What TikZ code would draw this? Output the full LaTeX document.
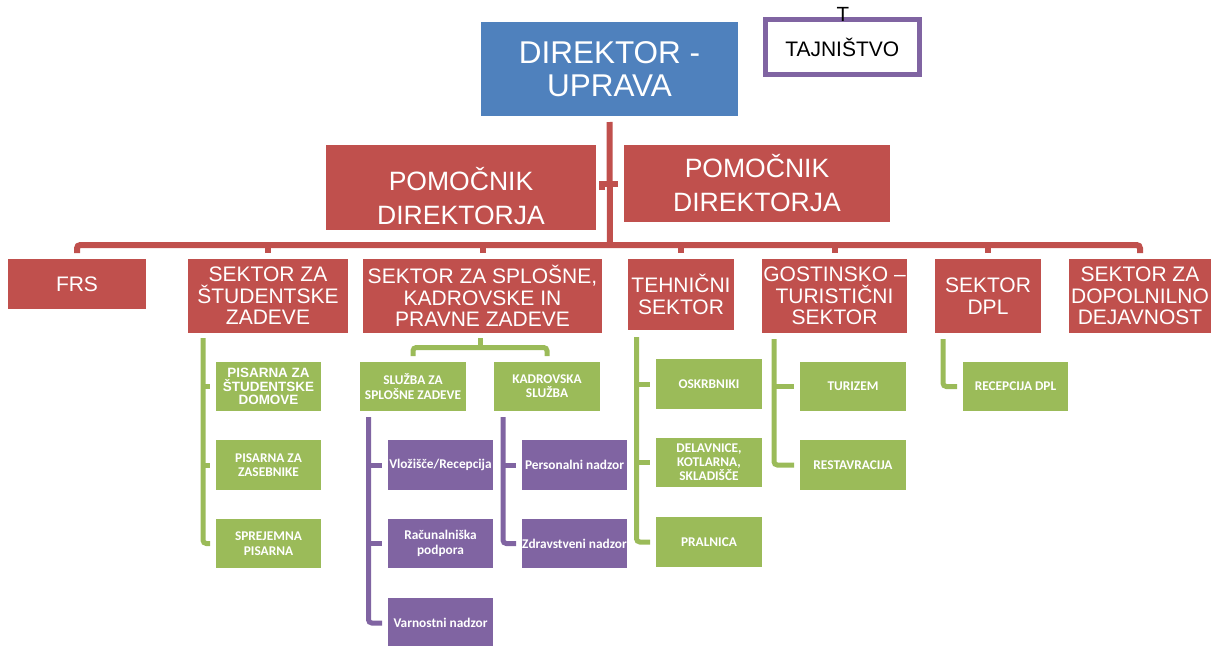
\documentclass[tikz,border=0pt]{standalone}
\usepackage{fontspec}
\setmainfont{Liberation Sans}
\newfontfamily\calibrifont{Carlito}
\usetikzlibrary{calc}
\definecolor{cblue}{HTML}{4F81BD}
\definecolor{cred}{HTML}{C0504D}
\definecolor{cgreen}{HTML}{9BBB59}
\definecolor{cpurple}{HTML}{8064A2}
\begin{document}
\begin{tikzpicture}[x=0.75pt,y=-0.75pt,
  corners/.style n args={4}{minimum width={(#3-#1)*0.75pt}, minimum height={(#4-#2)*0.75pt}, at={({(#1+#3)/2},{(#2+#4)/2})}},
  box/.style={inner sep=0pt, outer sep=0pt, align=center, text=white},
  redbox/.style={box, fill=cred, font=\fontsize{15.75}{16.1}\selectfont},
  greenbox/.style={box, fill=cgreen, font=\calibrifont\bfseries\fontsize{10}{10.6}\selectfont},
  purplebox/.style={box, fill=cpurple, font=\calibrifont\bfseries\fontsize{10}{11}\selectfont},
  redline/.style={draw=cred, line width=4.5pt, rounded corners=2.5pt},
  greenline/.style={draw=cgreen, line width=3.75pt, rounded corners=2.5pt},
  purpleline/.style={draw=cpurple, line width=3.75pt, rounded corners=2.5pt},
  bigtext/.style={font=\fontsize{19.9}{25.5}\selectfont},
]
\useasboundingbox (0,0) rectangle (1218,646);

% top
\node[box, fill=cblue, font=\fontsize{23.6}{24.75}\selectfont, corners={481}{22}{738}{116}] (dir) {DIREKTOR -\\UPRAVA};
\node[box, draw=cpurple, line width=3.75pt, fill=white, text=black, font=\fontsize{15.75}{18}\selectfont, corners={765.5}{19.5}{919}{74.5}] (taj) {TAJNIŠTVO};
\node[inner sep=0pt, anchor=base, text=black, font=\fontsize{15.4}{16}\selectfont] (tajT) at (843,21.7) {T};

\node[redbox, corners={326}{145}{596}{230}] (pomL) {};
\node[box, bigtext] (pomLt) at (461,196) {POMOČNIK\\DIREKTORJA};
\node[redbox, bigtext, corners={624}{145}{890}{222}] (pomR) {POMOČNIK\\DIREKTORJA};

% sectors
\node[redbox, corners={8}{259}{146}{309}] (frs) {FRS};
\node[redbox, corners={188}{259}{348}{333}] (stud) {SEKTOR ZA\\ŠTUDENTSKE\\ZADEVE};
\node[redbox, corners={363}{259}{602}{333}] (splo) {SEKTOR ZA SPLOŠNE,\\KADROVSKE IN\\PRAVNE ZADEVE};
\node[redbox, corners={628}{259}{734}{330}] (teh) {TEHNIČNI\\SEKTOR};
\node[redbox, corners={762}{259}{907}{333}] (gost) {GOSTINSKO –\\TURISTIČNI\\SEKTOR};
\node[redbox, corners={935}{259}{1041}{333}] (dpl) {SEKTOR\\DPL};
\node[redbox, corners={1069}{259}{1211}{333}] (dop) {SEKTOR ZA\\DOPOLNILNO\\DEJAVNOST};

% green units
\node[greenbox, font=\bfseries\fontsize{10.1}{10}\selectfont, corners={216}{362}{321}{411}] (pisSD) {PISARNA ZA\\ŠTUDENTSKE\\DOMOVE};
\node[greenbox, corners={216}{440}{321}{490}] (pisZ) {PISARNA ZA\\ZASEBNIKE};
\node[greenbox, font=\calibrifont\bfseries\fontsize{10}{11.5}\selectfont, corners={216}{519}{321}{568}] (sprej) {SPREJEMNA\\PISARNA};
\node[greenbox, corners={360}{362}{466}{411}] (slz) {SLUŽBA ZA\\SPLOŠNE ZADEVE};
\node[greenbox, corners={494}{362}{600}{411}] (kad) {KADROVSKA\\SLUŽBA};
\node[greenbox, corners={656}{359}{762}{409}] (oskr) {OSKRBNIKI};
\node[greenbox, corners={656}{438}{762}{487}] (delav) {DELAVNICE,\\KOTLARNA,\\SKLADIŠČE};
\node[greenbox, corners={656}{517}{762}{567}] (pral) {PRALNICA};
\node[greenbox, corners={800}{362}{906}{411}] (tur) {TURIZEM};
\node[greenbox, corners={800}{440}{906}{490}] (rest) {RESTAVRACIJA};
\node[greenbox, corners={963}{362}{1068}{411}] (recep) {RECEPCIJA DPL};

% purple units
\node[purplebox, corners={388}{440}{493}{490}] (vloz) {Vložišče/Recepcija};
\node[purplebox, corners={388}{519}{493}{568}] (racu) {Računalniška\\podpora};
\node[purplebox, corners={388}{598}{493}{648}] (varn) {Varnostni nadzor};
\node[purplebox, corners={522}{440}{627}{490}] (pers) {Personalni nadzor};
\node[purplebox, corners={522}{519}{627}{568}] (zdra) {\makebox[0pt]{Zdravstveni nadzor}};

% red connectors
\coordinate (bus) at (610,245);
\coordinate (asst) at (610,184);
\draw[redline] ($(dir.south)+(0,6)$) -- (bus);
\draw[redline] ($(frs.north)+(0,-6)$) |- (bus) -| ($(dop.north)+(0,-6)$);
\foreach \n in {stud,splo,teh,gost,dpl}
  \draw[redline] (\n.north |- bus) -- ($(\n.north)+(0,-6)$);
\draw[redline, rounded corners=0pt] ($(asst)+(-8,6)$) |- ($(asst)+(8,0)$);

% green connectors
\coordinate (sg) at (203,338);
\draw[greenline] (sg) |- ($(sprej.west)+(-6,0)$);
\foreach \n in {pisSD,pisZ}
  \draw[greenline] (sg |- \n.west) -- ($(\n.west)+(-6,0)$);

\coordinate (bk) at ($(splo.south)+(-2,14.5)$);
\draw[greenline] ($(splo.south)+(-2,5)$) -- (bk);
\draw[greenline] ($(slz.north)+(0,-6)$) |- (bk) -| ($(kad.north)+(0,-6)$);

\coordinate (tg) at (636.5,337);
\draw[greenline] (tg) |- ($(pral.west)+(-6,0)$);
\foreach \n in {oskr,delav}
  \draw[greenline] (tg |- \n.west) -- ($(\n.west)+(-6,0)$);

\coordinate (gg) at (774,339);
\draw[greenline] (gg) |- ($(rest.west)+(-6,0)$);
\draw[greenline] (gg |- tur.west) -- ($(tur.west)+(-6,0)$);

\coordinate (dg) at (943,339);
\draw[greenline] (dg) |- ($(recep.west)+(-6,0)$);

% purple connectors
\coordinate (pa) at (368.5,417);
\draw[purpleline] (pa) |- ($(varn.west)+(-6,0)$);
\foreach \n in {vloz,racu}
  \draw[purpleline] (pa |- \n.west) -- ($(\n.west)+(-6,0)$);

\coordinate (pb) at (503,417);
\draw[purpleline] (pb) |- ($(zdra.west)+(-6,0)$);
\draw[purpleline] (pb |- pers.west) -- ($(pers.west)+(-6,0)$);
\end{tikzpicture}
\end{document}
